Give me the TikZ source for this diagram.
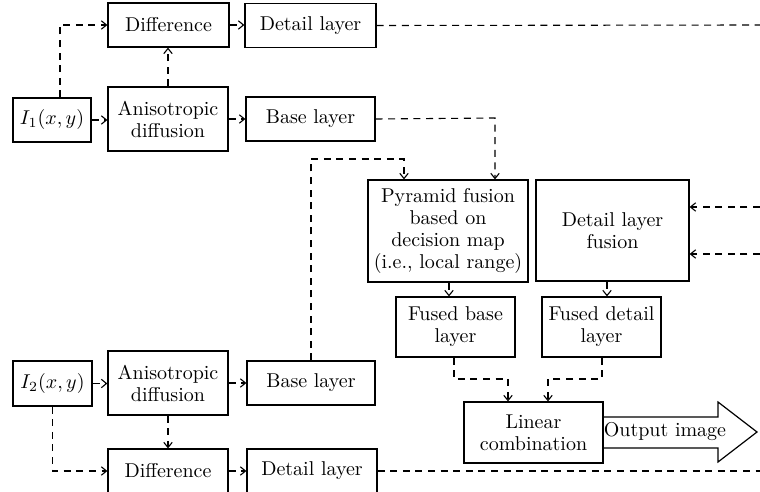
\documentclass[tikz,border=0pt]{standalone}
\usetikzlibrary{arrows.meta}
\begin{document}
\begin{tikzpicture}[x=0.5pt,y=-0.5pt,
  box/.style={draw,line width=0.6pt,inner sep=0pt,align=center,font=\fontsize{10}{11}\selectfont},
  conn/.style={line width=0.55pt,dash pattern=on 3.5pt off 2.8pt,-{Straight Barb[length=2.6pt,width=4.2pt]}},
  plain/.style={line width=0.55pt,dash pattern=on 3.5pt off 2.8pt}]
\clip (0,0) rectangle (760,492);
\node[box,minimum width=60.5pt,minimum height=22pt] (diff1) at (168.5,25) {Difference};
\node[box,minimum width=65.5pt,minimum height=22pt] (det1) at (310.5,25.5) {Detail layer};
\node[box,minimum width=39pt,minimum height=22pt] (I1) at (52,120) {$I_1(x,y)$};
\node[box,minimum width=60pt,minimum height=32pt] (an1) at (168,119) {Anisotropic\\diffusion};
\node[box,minimum width=64.5pt,minimum height=22pt] (base1) at (310.5,119) {Base layer};
\node[box,minimum width=80pt,minimum height=51pt] (pyr) at (448,231) {Pyramid fusion\\based on\\decision map\\(i.e., local range)};
\node[box,minimum width=76.5pt,minimum height=50.5pt] (dlf) at (612.5,230.5) {Detail layer\\fusion};
\node[box,minimum width=59.5pt,minimum height=30pt] (fbase) at (455.5,327) {Fused base\\layer};
\node[box,minimum width=59.5pt,minimum height=30pt] (fdet) at (601.5,327) {Fused detail\\layer};
\node[box,minimum width=39.5pt,minimum height=22.5pt] (I2) at (52.5,383.5) {$I_2(x,y)$};
\node[box,minimum width=60pt,minimum height=32pt] (an2) at (168,383) {Anisotropic\\diffusion};
\node[box,minimum width=64pt,minimum height=22pt] (base2) at (311,383) {Base layer};
\node[box,minimum width=60pt,minimum height=22pt] (diff2) at (168,471) {Difference};
\node[box,minimum width=65pt,minimum height=22pt] (det2) at (312,471) {Detail layer};
\node[box,minimum width=69.5pt,minimum height=30.5pt] (lin) at (533.5,432.5) {Linear\\combination};
\draw[line width=0.6pt] (lin.east |- 0,417) -- (718,417) -- (718,402) -- (757,432) -- (718,462) -- (718,448) -- (lin.east |- 0,448);
\node[font=\fontsize{10}{11}\selectfont,inner sep=0pt] (out) at (665,432) {Output image};
% edge coordinates
\coordinate (r1) at (760,25);
\coordinate (r2) at (760,207);
\coordinate (r3) at (760,254);
\coordinate (r4) at (760,471);
% connectors
\draw[conn] (I1.north -| 60,0) -- (60,25) -- (diff1.west);
\draw[conn] (I1.east) -- (an1.west |- I1.east);
\draw[conn] (an1.north) -- (diff1.south -| an1.north);
\draw[conn] (diff1.east) -- (det1.west |- diff1.east);
\draw[conn] (an1.east |- base1.east) -- (base1.west);
\draw[conn] (base1.east) -- (495,118) -- (pyr.north -| 495,0);
\draw[conn] (base2.north) -- (311,159) -- (404,159) -- (pyr.north -| 404,0);
\draw[conn] (pyr.south -| 449,0) -- (fbase.north -| 449,0);
\draw[conn] (dlf.south -| 607,0) -- (fdet.north -| 607,0);
\draw[conn] (fbase.south -| 454,0) -- (454,379) -- (508,379) -- (lin.north -| 508,0);
\draw[conn] (fdet.south -| 602,0) -- (602,379) -- (548,379) -- (lin.north -| 548,0);
\draw[conn] (I2.east) -- (an2.west |- I2.east);
\draw[conn] (an2.east |- base2.west) -- (base2.west);
\draw[conn] (an2.south) -- (diff2.north);
\draw[conn] (I2.south) -- (I2.south |- diff2.west) -- (diff2.west);
\draw[conn] (diff2.east) -- (det2.west |- diff2.east);
\draw[plain] (det1.east) -- (r1);
\draw[plain] (det2.east) -- (r4);
\draw[conn] (r2) -- (dlf.east |- r2);
\draw[conn] (r3) -- (dlf.east |- r3);
\end{tikzpicture}
\end{document}
